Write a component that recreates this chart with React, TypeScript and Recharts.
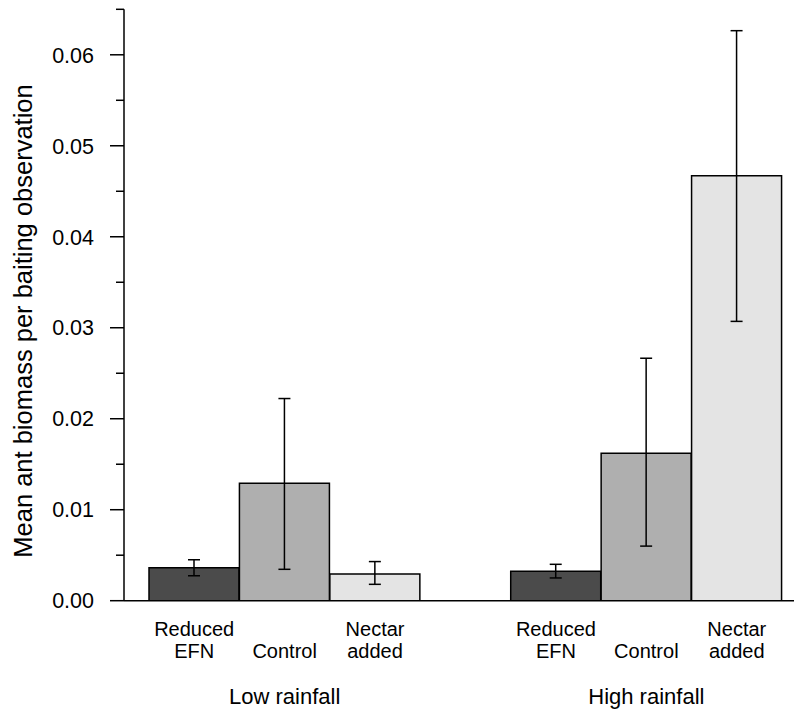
import React from 'react';
import { BarChart, Bar, XAxis, YAxis, Cell, ErrorBar } from 'recharts';

const groups = ['Low rainfall', 'High rainfall'];
const treatments: string[][] = [['Reduced', 'EFN'], ['Control'], ['Nectar', 'added']];
const treatmentColors = ['#4b4b4b', '#afafaf', '#e4e4e4'];

const lowMeans = [0.00362, 0.01292, 0.00293];
const lowLower = [0.00274, 0.00345, 0.0018];
const lowUpper = [0.0045, 0.02222, 0.0043];

const highMeans = [0.00325, 0.0162, 0.0467];
const highLower = [0.0025, 0.006, 0.0307];
const highUpper = [0.004, 0.02665, 0.06265];

const yTicks = [0, 0.005, 0.01, 0.015, 0.02, 0.025, 0.03, 0.035, 0.04, 0.045, 0.05, 0.055, 0.06, 0.065];
const yMajor = [0, 0.01, 0.02, 0.03, 0.04, 0.05, 0.06];
const yLabel = 'Mean ant biomass per baiting observation';

const FONT = 'Liberation Sans, Arial, Helvetica, sans-serif';

type Row = { key: string; lines: string[]; group: string; value: number | null; err: number[] | null; color: string };

const groupData = [
  { means: lowMeans, lower: lowLower, upper: lowUpper },
  { means: highMeans, lower: highLower, upper: highUpper },
];

const rows: Row[] = [];
groups.forEach((g, gi) => {
  if (gi > 0) rows.push({ key: 'gap' + gi, lines: [], group: '', value: null, err: null, color: '#fff' });
  const d = groupData[gi];
  treatments.forEach((t, ti) => {
    rows.push({
      key: 'g' + gi + 't' + ti,
      lines: t,
      group: ti === 1 ? g : '',
      value: d.means[ti],
      err: [d.means[ti] - d.lower[ti], d.upper[ti] - d.means[ti]],
      color: treatmentColors[ti],
    });
  });
});

const XTick = (props: any) => {
  const { x, y, payload } = props;
  const row = rows.find((r) => r.key === payload.value);
  if (!row) return null;
  const n = row.lines.length;
  return (
    <g>
      {row.lines.map((ln, i) => (
        <text key={i} x={x} y={y + 35 + (i + 2 - n) * 22.5} textAnchor="middle" fontSize={20} fontFamily={FONT} fill="#000">
          {ln}
        </text>
      ))}
      {row.group ? (
        <text x={x} y={y + 103} textAnchor="middle" fontSize={22} fontFamily={FONT} fill="#000">
          {row.group}
        </text>
      ) : null}
    </g>
  );
};

const YTick = (props: any) => {
  const { x, y, payload } = props;
  const v = payload.value;
  const isMajor = yMajor.some((m) => Math.abs(m - v) < 1e-9);
  return (
    <g>
      <line x1={x + (isMajor ? 16 : 22)} x2={x + 30} y1={y} y2={y} stroke="#000" strokeWidth={1.5} />
      {isMajor ? (
        <text x={x} y={y} dy="0.36em" textAnchor="end" fontSize={21.5} fontFamily={FONT} fill="#000">
          {v.toFixed(2)}
        </text>
      ) : null}
    </g>
  );
};

export default function App() {
  return (
    <div style={{ position: 'absolute', left: 0, top: 0, width: 794, height: 724, background: '#fff' }}>
      <BarChart
        width={794}
        height={724}
        data={rows}
        margin={{ top: 9.3, right: 0, bottom: 0, left: 0 }}
        barCategoryGap={0}
        barGap={0}
      >
        <XAxis
          dataKey="key"
          type="category"
          height={123.3}
          interval={0}
          padding={{ left: 25, right: 12 }}
          tickLine={false}
          tickSize={0}
          tickMargin={0}
          axisLine={{ stroke: '#000', strokeWidth: 1.5 }}
          tick={<XTick />}
        />
        <YAxis
          type="number"
          width={124}
          domain={[0, 0.065]}
          ticks={yTicks}
          interval={0}
          allowDataOverflow
          tickLine={false}
          tickSize={14}
          tickMargin={16}
          axisLine={{ stroke: '#000', strokeWidth: 1.5 }}
          tick={<YTick />}
          label={{
            content: () => (
              <text transform="rotate(-90, 32, 321)" x={32} y={321} textAnchor="middle" fontSize={25.5} fontFamily={FONT} fill="#000">
                {yLabel}
              </text>
            ),
          }}
        />
        <Bar dataKey="value" isAnimationActive={false} stroke="#000" strokeWidth={1.5}>
          {rows.map((r) => (
            <Cell key={r.key} fill={r.color} />
          ))}
          <ErrorBar dataKey="err" width={6} stroke="#000" strokeWidth={1.5} isAnimationActive={false} />
        </Bar>
      </BarChart>
    </div>
  );
}
